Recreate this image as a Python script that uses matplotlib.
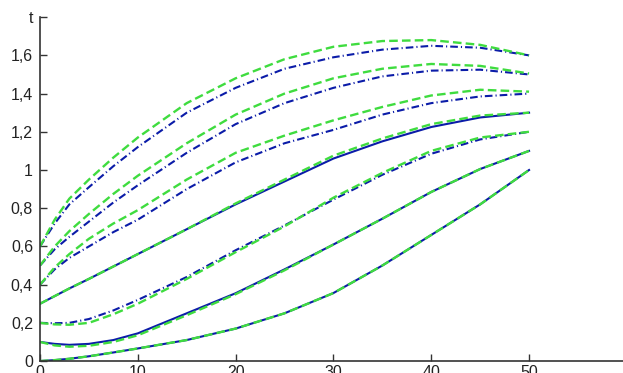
import matplotlib
matplotlib.use("Agg")
import matplotlib.pyplot as plt

plt.rcParams['font.family'] = ['Liberation Sans', 'DejaVu Sans']
plt.rcParams['lines.scale_dashes'] = False

# x positions where curves were read
x = [0, 1.5, 3, 5, 7.5, 10, 15, 20, 25, 30, 35, 40, 45, 50]

# blue curves (bottom to top)
blue = [
    [0.0, 0.005, 0.012, 0.025, 0.045, 0.066, 0.11, 0.17, 0.25, 0.356, 0.50, 0.66, 0.82, 1.0],
    [0.1, 0.09, 0.085, 0.09, 0.11, 0.145, 0.25, 0.355, 0.48, 0.61, 0.745, 0.885, 1.005, 1.1],
    [0.2, 0.198, 0.2, 0.22, 0.265, 0.32, 0.44, 0.58, 0.71, 0.845, 0.975, 1.085, 1.16, 1.2],
    [0.3, 0.34, 0.38, 0.43, 0.495, 0.56, 0.69, 0.82, 0.94, 1.06, 1.15, 1.225, 1.275, 1.3],
    [0.4, 0.48, 0.54, 0.60, 0.675, 0.74, 0.90, 1.04, 1.14, 1.21, 1.29, 1.35, 1.385, 1.40],
    [0.5, 0.585, 0.65, 0.73, 0.83, 0.92, 1.09, 1.24, 1.35, 1.43, 1.49, 1.52, 1.525, 1.50],
    [0.6, 0.72, 0.82, 0.91, 1.02, 1.12, 1.30, 1.43, 1.53, 1.59, 1.63, 1.65, 1.64, 1.60],
]
# green curves (bottom to top)
green = [
    [0.0, 0.005, 0.012, 0.025, 0.045, 0.066, 0.11, 0.17, 0.25, 0.356, 0.50, 0.66, 0.82, 1.0],
    [0.1, 0.082, 0.075, 0.08, 0.10, 0.135, 0.24, 0.35, 0.475, 0.61, 0.745, 0.885, 1.005, 1.1],
    [0.2, 0.192, 0.19, 0.20, 0.245, 0.30, 0.43, 0.57, 0.705, 0.855, 0.985, 1.10, 1.17, 1.2],
    [0.3, 0.34, 0.38, 0.43, 0.495, 0.56, 0.69, 0.825, 0.95, 1.075, 1.165, 1.24, 1.285, 1.3],
    [0.4, 0.49, 0.56, 0.64, 0.72, 0.79, 0.95, 1.09, 1.18, 1.26, 1.33, 1.39, 1.42, 1.41],
    [0.5, 0.60, 0.68, 0.77, 0.875, 0.97, 1.14, 1.29, 1.40, 1.48, 1.53, 1.555, 1.545, 1.505],
    [0.6, 0.74, 0.85, 0.95, 1.065, 1.17, 1.35, 1.48, 1.58, 1.645, 1.675, 1.68, 1.655, 1.60],
]
blue_styles = ['solid', 'solid', 'dashdot', 'solid', 'dashdot', 'dashdot', 'dashdot']

xticks = [0, 10, 20, 30, 40, 50]
xticklabels = ['0', '10', '20', '30', '40', '50']
yticks = [0, 0.2, 0.4, 0.6, 0.8, 1.0, 1.2, 1.4, 1.6, 1.8]
yticklabels = ['0', '0,2', '0,4', '0,6', '0,8', '1', '1,2', '1,4', '1,6', 't']

BLUE = '#0b1ca8'
GREEN = '#3fdc3f'
dash_dot = (0, (5.5, 2.2, 0.8, 2.2))
dashed = (0, (6.2, 3.0))

fig = plt.figure(figsize=(6.23, 3.73), dpi=100)
ax = fig.add_axes([0.0642, 0.032, 0.942, 0.922])

for b, g, st in zip(blue, green, blue_styles):
    ls = '-' if st == 'solid' else dash_dot
    ax.plot(x, b, color=BLUE, lw=1.5, linestyle=ls)
    ax.plot(x, g, color=GREEN, lw=1.7, linestyle=dashed)

ax.set_xlim(0, 60)
ax.set_ylim(0, 1.8)
ax.set_xticks(xticks)
ax.set_xticklabels(xticklabels)
ax.set_yticks(yticks)
ax.set_yticklabels(yticklabels)
for s in ['top', 'right']:
    ax.spines[s].set_visible(False)
for s in ['left', 'bottom']:
    ax.spines[s].set_color('#333333')
    ax.spines[s].set_linewidth(1.2)
ax.tick_params(direction='in', length=5, width=1, color='#333333',
               labelsize=11.5, labelcolor='#222222')
ax.tick_params(axis='y', pad=5)
ax.tick_params(axis='x', pad=3)

fig.savefig('out.png', dpi=100)
